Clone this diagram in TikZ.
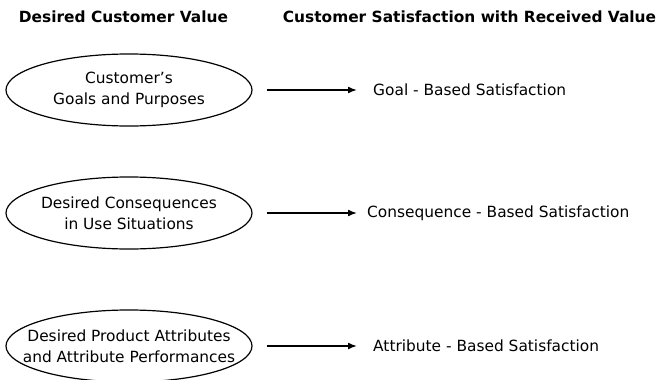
\documentclass[tikz,border=0pt]{standalone}
\usepackage{fontspec}
\setmainfont{DejaVu Sans}
\usepackage{tikz}
\usetikzlibrary{
  arrows.meta,
  shapes.geometric
}
\tikzset{
  heading/.style={
    inner sep=0pt,
    font=\bfseries\fontsize{15.4}{18}\selectfont
  },
  valueellipse/.style={
    ellipse,
    draw,
    line width=1.2pt,
    inner sep=0pt,
    minimum width=246pt,
    minimum height=72pt
  },
  valuetext/.style={
    align=center,
    inner sep=0pt,
    font=\fontsize{15.4}{21}\selectfont
  },
  satisfaction/.style={
    anchor=west,
    inner sep=0pt,
    font=\fontsize{15.4}{21}\selectfont
  },
  connection/.style={
    -{Latex[length=9pt,width=7pt]},
    line width=1.5pt,
    shorten <=14pt
  }
}
\begin{document}
\begin{tikzpicture}[x=1pt,y=-1pt]

  \useasboundingbox (0,0) rectangle (662,380);

  \node[heading] (lefthead) at (123.5,17) {
    Desired Customer Value
  };

  \node[heading] (righthead) at (469.5,17) {
    Customer Satisfaction with Received Value
  };

  \node[valueellipse] (goals) at (129,90) {};
  \node[valuetext] (goalstext) at (goals) {
    Customer's\\
    Goals and Purposes
  };

  \node[valueellipse] (consequences) at (129,213) {};
  \node[valuetext] (consequencestext) at (consequences) {
    Desired Consequences\\
    in Use Situations
  };

  \node[valueellipse] (attributes) at (129,346) {};
  \node[valuetext] (attributestext) at (attributes) {
    Desired Product Attributes\\
    and Attribute Performances
  };

  \node[satisfaction] (goalsat) at (373,90) {
    Goal - Based Satisfaction
  };

  \node[satisfaction] (consequencesat) at (367,213) {
    Consequence - Based Satisfaction
  };

  \node[satisfaction] (attributesat) at (373,346) {
    Attribute - Based Satisfaction
  };

  \draw[connection, shorten >=16pt]
  (goals.east) -- (goalsat.west);

  \draw[connection, shorten >=10pt]
  (consequences.east) -- (consequencesat.west);

  \draw[connection, shorten >=16pt]
  (attributes.east) -- (attributesat.west);

\end{tikzpicture}
\end{document}
